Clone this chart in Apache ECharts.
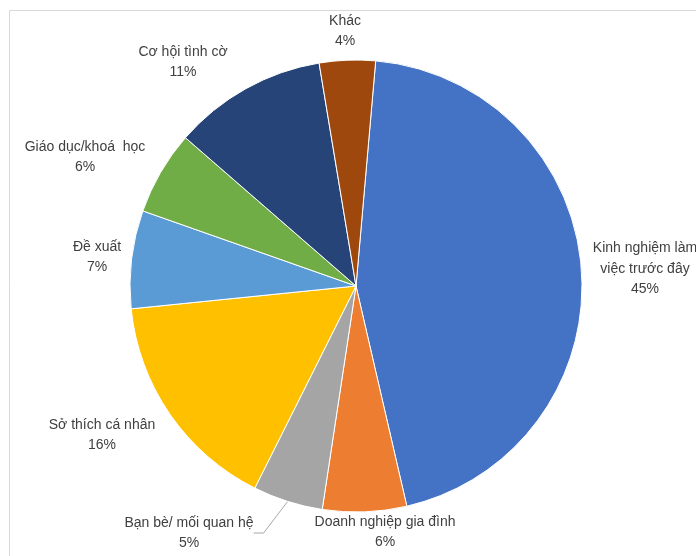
<!DOCTYPE html>
<html><head><meta charset="utf-8">
<script src="https://cdn.jsdelivr.net/npm/echarts@6/dist/echarts.min.js"></script>
<style>html,body{margin:0;padding:0;background:#fff}#c{width:696px;height:556px}</style>
</head><body><div id="c"></div>
<script>
var categories = ['Kinh nghiệm làm\nviệc trước đây','Doanh nghiệp gia đình','Bạn bè/ mối quan hệ','Sở thích cá nhân','Đề xuất','Giáo dục/khoá  học','Cơ hội tình cờ','Khác'];
var values = [45, 6, 5, 16, 7, 6, 11, 4];
var colors = ['#4472C4','#ED7D31','#A5A5A5','#FFC000','#5B9BD5','#70AD47','#264478','#9E480E'];
// label centre positions (layout only)
var labelPos = [[645,269],[385,532],[189,533],[102,435],[97,257],[85,157],[183,62],[345,31]];

var chart = echarts.init(document.getElementById('c'));
chart.setOption({
  animation:false,
  graphic:[{type:'rect',shape:{x:9.5,y:10.5,width:800,height:700},style:{fill:'none',stroke:'#d9d9d9',lineWidth:1},silent:true}],
  series:[{
    type:'pie',
    center:[356,286],
    radius:226,
    startAngle:85,
    clockwise:true,
    avoidLabelOverlap:false,
    itemStyle:{borderColor:'#fff',borderWidth:1},
    label:{show:true,position:'outside',color:'#404040',fontFamily:'Liberation Sans',fontSize:14,lineHeight:20.5,align:'center',
      formatter:function(p){return p.name+'\n'+Math.round(p.percent)+'%';}},
    labelLine:{show:false},
    labelLayout:function(p){var q=labelPos[p.dataIndex];return {x:q[0],y:q[1],align:'center',verticalAlign:'middle'};},
    data:categories.map(function(n,i){
      var d={name:n,value:values[i],itemStyle:{color:colors[i]}};
      if(i===2){d.labelLine={show:true,length:10,length2:10,lineStyle:{color:'#a6a6a6',width:1}};}
      return d;
    })
  }]
});
</script></body></html>
